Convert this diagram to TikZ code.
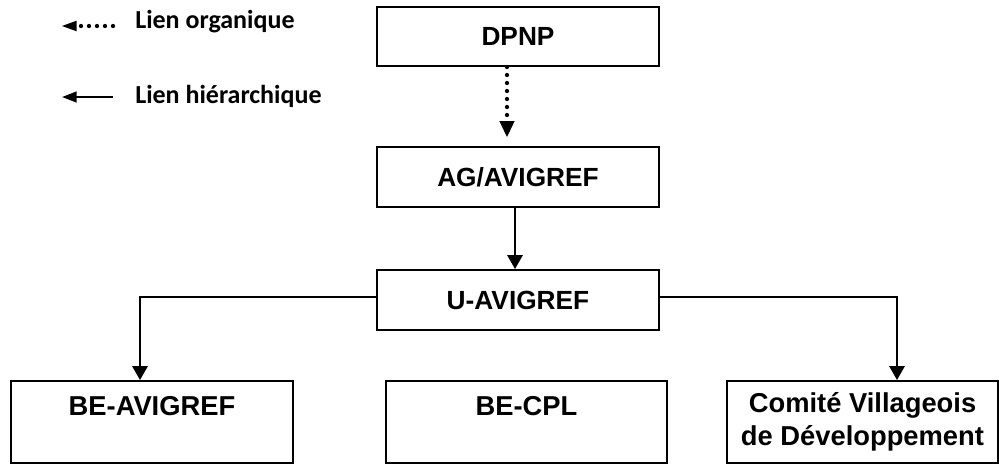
\documentclass[tikz,border=0pt]{standalone}
\usepackage{fontspec}
\setmainfont{Liberation Sans}
\newfontfamily\legendfont{Carlito}
\usetikzlibrary{arrows.meta}
\newcommand\pxu{0.75pt}
\begin{document}
\begin{tikzpicture}[x=0.75pt,y=-0.75pt,
  box/.style={draw, line width=1.5pt, rectangle, inner sep=0pt},
  boxlabel/.style={font=\fontsize{19.7}{24.75}\selectfont\bfseries, align=center},
  lowlabel/.style={font=\fontsize{20.5}{24.75}\selectfont\bfseries, align=center, inner sep=0pt},
  legendlabel/.style={font=\legendfont\fontsize{19.5}{22}\selectfont\bfseries, inner sep=0pt, anchor=base west},
  hier/.style={line width=1.7pt, -{Triangle[length=10.5pt,width=11.5pt]}},
  org/.style={line width=3.2pt, line cap=round, dash pattern=on 0pt off 6pt,
    -{Triangle[length=12pt,width=11.5pt,line width=0pt]}},
  orgkey/.style={line width=3.2pt, line cap=round, dash pattern=on 0pt off 6pt,
    -{Triangle[length=11pt,width=8pt,line width=0pt]}},
  hierkey/.style={line width=1.7pt, -{Triangle[length=11pt,width=8pt]}}]
\useasboundingbox (0,0) rectangle (999,465);

% legend
\coordinate (ko1) at (113,26);
\coordinate (ko0) at (62,26);
\coordinate (kh1) at (113,97);
\coordinate (kh0) at (62,97);
\draw[orgkey] (ko1) -- (ko0);
\draw[hierkey] (kh1) -- (kh0);
\node[legendlabel] (lorg) at (135,28.5) {Lien organique};
\node[legendlabel] (lhier) at (135,103.5) {Lien hiérarchique};

% upper chain
\node[box, boxlabel, minimum width=282*\pxu, minimum height=59*\pxu] (dpnp) at (518,36.5) {DPNP};
\node[box, boxlabel, minimum width=282*\pxu, minimum height=60*\pxu] (ag) at (518,177) {AG/AVIGREF};
\node[box, boxlabel, minimum width=282*\pxu, minimum height=60*\pxu] (uav) at (518,300) {U-AVIGREF};

% lower row
\node[box, minimum width=282*\pxu, minimum height=82*\pxu] (beav) at (152,422) {};
\node[box, minimum width=281*\pxu, minimum height=82*\pxu] (becpl) at (526.5,422) {};
\node[box, lowlabel, minimum width=271*\pxu, minimum height=82*\pxu] (cvd) at (862.5,422)
  {Comité Villageois\\de Développement};
\node[lowlabel] (beavT) at (152,406.5) {BE-AVIGREF};
\node[lowlabel] (becplT) at (526.5,406.5) {BE-CPL};

% connectors
\coordinate (xa) at (507,0);
\coordinate (xb) at (515,0);
\coordinate (yc) at (0,297);
\coordinate (xl) at (140,0);
\coordinate (xr) at (897,0);
\draw[org, shorten >=6.75pt] (dpnp.south -| xa) -- (ag.north -| xa);
\draw[hier] (ag.south -| xb) -- (uav.north -| xb);
\draw[hier] (uav.west |- yc) -| (beav.north -| xl);
\draw[hier] (uav.east |- yc) -| (cvd.north -| xr);
\end{tikzpicture}
\end{document}
